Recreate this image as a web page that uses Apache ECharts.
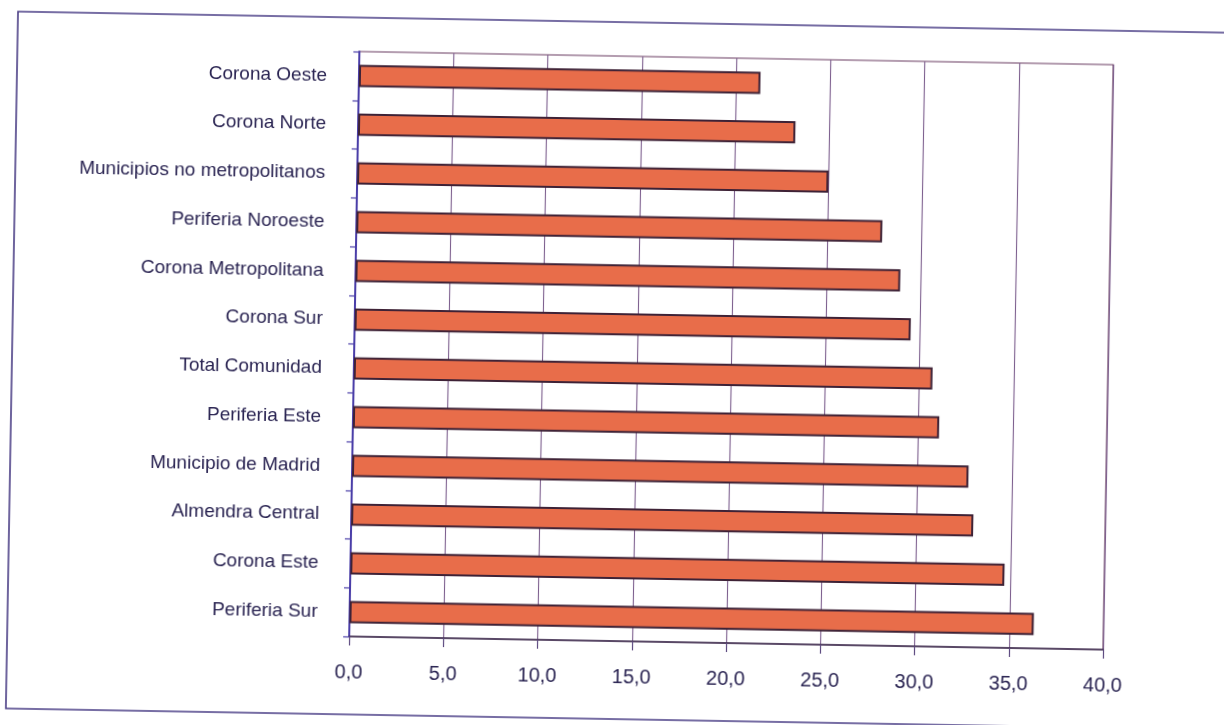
<!DOCTYPE html>
<html>
<head>
<meta charset="utf-8">
<script src="https://cdn.jsdelivr.net/npm/echarts@6/dist/echarts.min.js"></script>
<style>
  html, body { margin: 0; padding: 0; background: #ffffff; overflow: hidden; }
  #chart { width: 1224px; height: 725px; transform: rotate(1deg); transform-origin: 612px 362px; }
</style>
</head>
<body>
<div id="chart"></div>
<script>
// Zonas de la Comunidad de Madrid (de arriba abajo)
const categories = [
  'Corona Oeste',
  'Corona Norte',
  'Municipios no metropolitanos',
  'Periferia Noroeste',
  'Corona Metropolitana',
  'Corona Sur',
  'Total Comunidad',
  'Periferia Este',
  'Municipio de Madrid',
  'Almendra Central',
  'Corona Este',
  'Periferia Sur'
];
// Porcentaje por zona
const values = [21.3, 23.2, 25.0, 27.9, 28.9, 29.5, 30.7, 31.1, 32.7, 33.0, 34.7, 36.3];
// Marcas del eje horizontal
const xTicks = [0, 5, 10, 15, 20, 25, 30, 35, 40];

const FONT = "'Liberation Sans Narrow', 'Arial Narrow', 'Liberation Sans', Arial, sans-serif";
const INK = '#2a2452';

const chart = echarts.init(document.getElementById('chart'), null, { renderer: 'canvas' });

chart.setOption({
  backgroundColor: '#ffffff',
  animation: false,
  grid: {
    left: 354, right: 116, top: 56, bottom: 84,
    show: true, borderColor: '#6b3c62', borderWidth: 1.2, backgroundColor: 'transparent'
  },
  graphic: [{
    type: 'rect',
    shape: { x: 12, y: 22, width: 1260, height: 697 },
    style: { fill: 'none', stroke: '#4b3f86', lineWidth: 1.6 },
    silent: true
  }],
  xAxis: {
    type: 'value',
    min: xTicks[0], max: xTicks[xTicks.length - 1], interval: 5,
    axisLine: { show: true, lineStyle: { color: '#3b2d4e', width: 1.6 } },
    axisTick: { show: true, length: 9, lineStyle: { color: '#5d4a80', width: 1.2 } },
    splitLine: { show: true, lineStyle: { color: '#7d5f8e', width: 1.1 } },
    axisLabel: {
      margin: 26, color: INK, fontFamily: FONT, fontSize: 20,
      formatter: v => v.toFixed(1).replace('.', ',')
    }
  },
  yAxis: {
    type: 'category',
    data: categories,
    inverse: true,
    axisLine: { show: true, lineStyle: { color: '#4a3ea8', width: 2 } },
    axisTick: { show: true, length: 6, lineStyle: { color: '#4a3ea8', width: 1.2 } },
    axisLabel: { margin: 32, color: INK, fontFamily: FONT, fontSize: 19 },
    splitLine: { show: false }
  },
  series: [{
    type: 'bar',
    data: values,
    barWidth: '46%',
    itemStyle: { color: '#e86d4a', borderColor: '#3e2236', borderWidth: 2 }
  }]
});
</script>
</body>
</html>
